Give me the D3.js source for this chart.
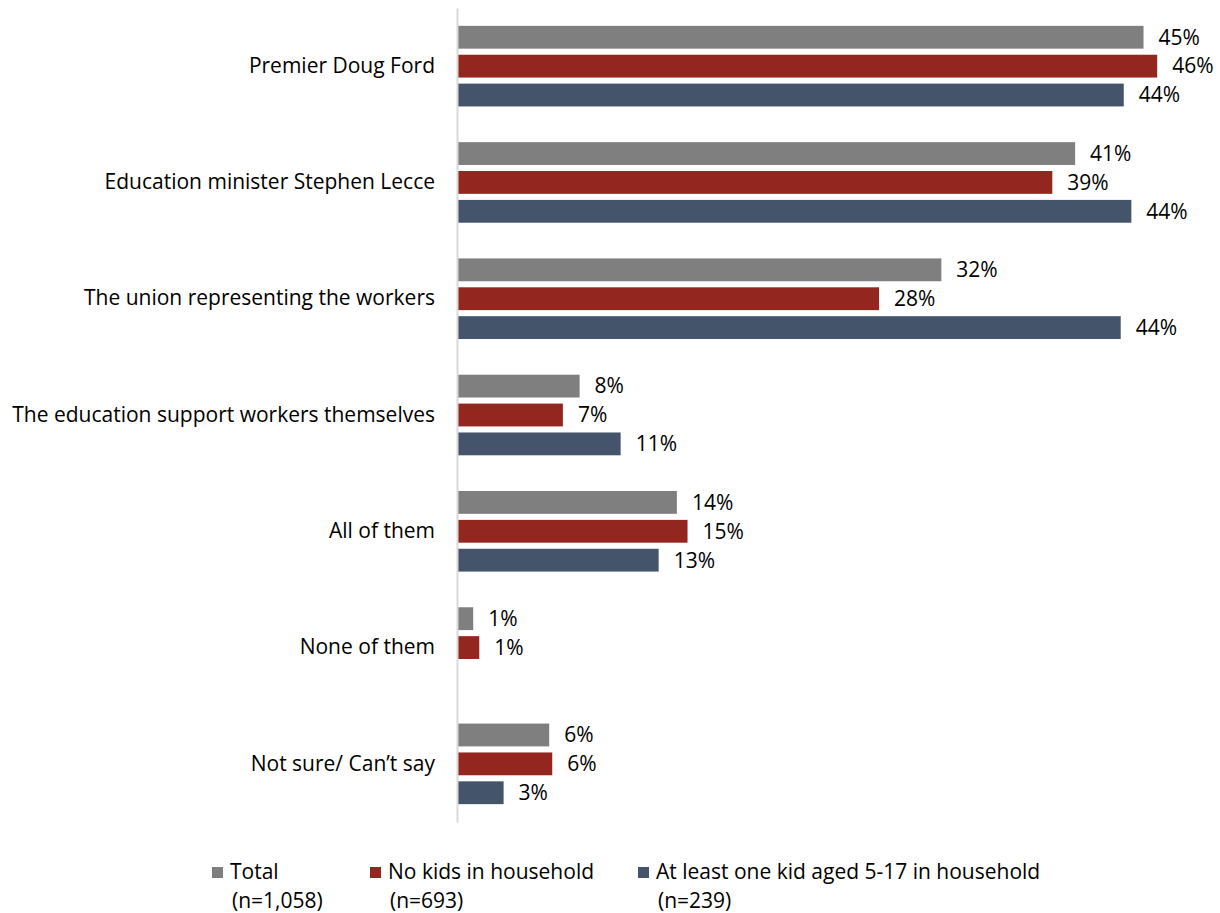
<!DOCTYPE html>
<html>
<head>
    <script src="https://d3js.org/d3.v7.min.js"></script>
    <style>
        body { margin: 0; background: #fff; }
        text { font-family: "Open Sans", "Noto Sans", sans-serif; fill: #000; }
        .axis path { stroke: #d9d9d9; stroke-width: 2; }
        .axis line { display: none; }
    </style>
</head>
<body>
    <div id="chart"></div>
    <script>
        // Categories and series
        const categories = [
            "Premier Doug Ford",
            "Education minister Stephen Lecce",
            "The union representing the workers",
            "The education support workers themselves",
            "All of them",
            "None of them",
            "Not sure/ Can\u2019t say"
        ];
        const seriesNames = ["Total", "No kids in household", "At least one kid aged 5-17 in household"];
        const seriesN = ["(n=1,058)", "(n=693)", "(n=239)"];
        const seriesColors = ["#7f7f7f", "#93261f", "#44546a"];

        const totalValues = [45.1, 40.6, 31.8, 8.0, 14.4, 1.0, 6.0];
        const noKidsValues = [46.0, 39.1, 27.7, 6.9, 15.1, 1.4, 6.2];
        const kidsValues = [43.8, 44.3, 43.6, 10.7, 13.2, null, 3.0];
        const seriesValues = [totalValues, noKidsValues, kidsValues];

        const width = 1220, height = 913;
        const fontSize = 21;

        const svg = d3.select("#chart").append("svg")
            .attr("width", width)
            .attr("height", height);

        const y = d3.scaleBand()
            .domain(categories)
            .range([8, 822])
            .paddingInner(0.307)
            .paddingOuter(0.1535);

        const ySub = d3.scaleBand()
            .domain(d3.range(seriesNames.length))
            .range([0, y.bandwidth()])
            .paddingInner(0.21);

        const x = d3.scaleLinear()
            .domain([0, 50])
            .range([458, 458 + 760]);

        // Bars
        const rows = [];
        categories.forEach((c, i) => {
            seriesValues.forEach((vals, s) => {
                if (vals[i] != null) rows.push({ cat: c, s: s, v: vals[i] });
            });
        });

        svg.append("g").selectAll("rect")
            .data(rows)
            .enter().append("rect")
            .attr("x", x(0))
            .attr("y", d => y(d.cat) + ySub(d.s))
            .attr("width", d => x(d.v) - x(0))
            .attr("height", ySub.bandwidth())
            .attr("fill", d => seriesColors[d.s]);

        // Value labels
        svg.append("g").selectAll("text")
            .data(rows)
            .enter().append("text")
            .attr("x", d => x(d.v) + 15)
            .attr("y", d => y(d.cat) + ySub(d.s) + ySub.bandwidth() / 2)
            .attr("dy", "0.35em")
            .style("font-size", fontSize + "px")
            .text(d => Math.round(d.v) + "%");

        // Category axis
        const axis = svg.append("g")
            .attr("class", "axis")
            .attr("transform", `translate(${x(0) - 1},0)`)
            .call(d3.axisLeft(y).tickSize(0).tickSizeOuter(0).tickPadding(22));
        axis.selectAll("text")
            .style("font-size", fontSize + "px")
            .style("font-family", "'Open Sans', sans-serif")
            .attr("fill", "#000");
        axis.selectAll(".tick")
            .attr("transform", d => `translate(0,${y(d) + ySub(1) + ySub.bandwidth() / 2})`);

        // Legend
        const legendX = [212, 370, 638];
        const legend = svg.append("g").selectAll("g")
            .data(seriesNames)
            .enter().append("g")
            .attr("transform", (d, i) => `translate(${legendX[i]},0)`);

        legend.append("rect")
            .attr("x", 0)
            .attr("y", 867)
            .attr("width", 11)
            .attr("height", 11)
            .attr("fill", (d, i) => seriesColors[i]);

        legend.append("text")
            .attr("x", 18)
            .attr("y", 872)
            .attr("dy", "0.35em")
            .style("font-size", fontSize + "px")
            .text(d => d);

        legend.append("text")
            .attr("x", 20)
            .attr("y", 901)
            .attr("dy", "0.35em")
            .style("font-size", fontSize + "px")
            .text((d, i) => seriesN[i]);
    </script>
</body>
</html>
